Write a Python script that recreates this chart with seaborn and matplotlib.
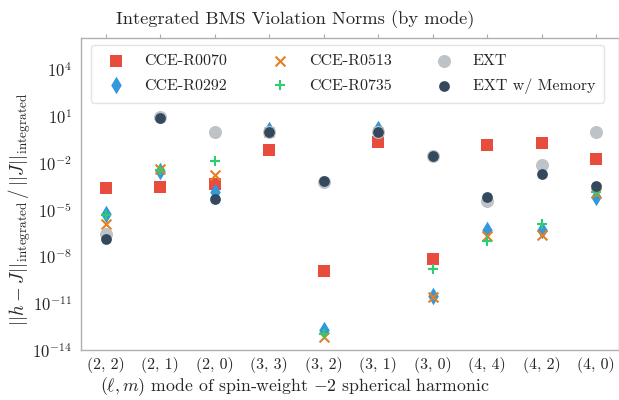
import matplotlib
matplotlib.use("Agg")
import matplotlib.pyplot as plt
import numpy as np
import seaborn as sns

MODES = ["(2, 2)", "(2, 1)", "(2, 0)", "(3, 3)", "(3, 2)",
         "(3, 1)", "(3, 0)", "(4, 4)", "(4, 2)", "(4, 0)"]

# log10 of the integrated violation norm
R0070 = [-3.62, -3.58, -3.39, -1.16, -8.96, -0.67, -8.17, -0.84, -0.71, -1.78]
R0292 = [-5.27, -2.53, -3.88, 0.10, -12.73, 0.15, -10.52, -6.30, -6.30, -4.21]
R0513 = [-5.92, -2.38, -2.81, -0.05, -13.16, 0.00, -10.63, -6.67, -6.60, -3.95]
R0735 = [-5.34, -2.49, -1.89, -0.03, -12.95, 0.02, -8.83, -6.99, -5.92, -3.90]
EXT = [-6.56, 0.92, -0.03, -0.05, -3.20, -0.02, -1.55, -4.46, -2.12, -0.03]
EXT_MEM = [-6.88, 0.90, -4.35, -0.03, -3.18, -0.03, -1.55, -4.21, -2.75, -3.46]

SERIES = [
    ("CCE-R0070", R0070, "s", "#e74c3c", 65),
    ("CCE-R0292", R0292, "d", "#3498db", 80),
    ("CCE-R0513", R0513, "x", "#e67e22", 50),
    ("CCE-R0735", R0735, "+", "#2ecc71", 50),
    ("EXT", EXT, "o", "#bdc3c7", 88),
    ("EXT w/ Memory", EXT_MEM, "o", "#34495e", 60),
]

sns.set_style("white")
plt.rcParams["font.family"] = "serif"
plt.rcParams["font.serif"] = ["cmr10", "DejaVu Serif"]
plt.rcParams["mathtext.fontset"] = "cm"
plt.rcParams["axes.formatter.use_mathtext"] = True

fig = plt.figure(figsize=(6.19, 4.0), dpi=100)
ax = fig.add_axes([81 / 619, 50 / 400, 538 / 619, 312 / 400])

for label, vals, marker, color, size in SERIES:
    y = 10.0 ** np.array(vals)
    if marker in ("x", "+"):
        sns.scatterplot(x=MODES, y=y, marker=marker, color=color, s=size,
                        linewidth=1.5, label=label, ax=ax)
    else:
        sns.scatterplot(x=MODES, y=y, marker=marker, color=color, s=size,
                        linewidth=0, label=label, ax=ax)

ax.set_yscale("log")
ax.set_ylim(1e-14, 10 ** 6.0)
ax.set_xlim(-0.45, 9.42)
ax.set_yticks([10.0 ** k for k in range(-14, 5, 3)])
ax.yaxis.set_minor_locator(matplotlib.ticker.NullLocator())
ax.tick_params(axis="both", length=3, color="#aaaaaa",
               top=True, right=True, direction="out")
ax.tick_params(axis="x", labelsize=11.4, pad=2)
ax.tick_params(axis="y", labelsize=12)

for sp in ax.spines.values():
    sp.set_color("#b0b0b0")
    sp.set_linewidth(1.0)

ax.set_xlabel(r"$(\ell, m)$ mode of spin-weight $-2$ spherical harmonic",
              fontsize=12.8, labelpad=0)
ax.xaxis.set_label_coords((295 - 81) / 538, -0.08)
ax.set_ylabel(r"$||h - J||_{\rm integrated}\, /\, ||J||_{\rm integrated}$",
              fontsize=13.7)
ax.yaxis.set_label_coords(-0.09, (350 - 209) / 312)
fig.text(295 / 619, 1 - 20 / 400, "Integrated BMS Violation Norms (by mode)",
         ha="center", va="center", fontsize=13.3)

leg = ax.legend(loc="upper center", ncol=3, fontsize=11.5, frameon=True,
                bbox_to_anchor=((347.5 - 81) / 538, (350 - 45) / 312),
                borderaxespad=0, handletextpad=0.8, columnspacing=2.3,
                borderpad=0.55, labelspacing=0.65)
leg.get_frame().set_edgecolor("#dddddd")

fig.savefig("out.png", dpi=100)
